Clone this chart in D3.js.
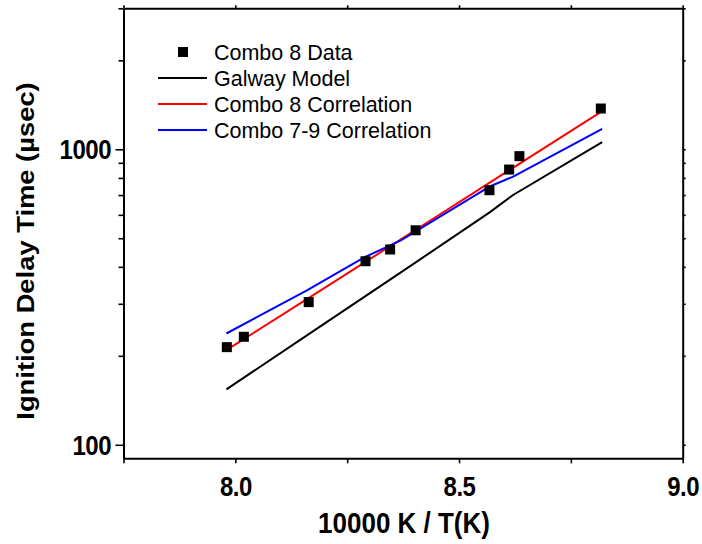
<!DOCTYPE html>
<meta charset="utf-8">
<script src="https://cdn.jsdelivr.net/npm/d3@7/dist/d3.min.js"></script>
<style>
  body { margin: 0; background: #fff; }
  text { font-family: "Liberation Sans", Arial, sans-serif; fill: #000; }
  .axis path, .axis line { stroke: #000; }
  .axis path { stroke-width: 2; }
  .axis line { stroke-width: 1.6; }
</style>
<div id="chart"></div>
<script>
// Combo 8 measured ignition delays
var dataX = [7.981, 8.019, 8.164, 8.291, 8.346, 8.403, 8.568, 8.612, 8.635, 8.817];
var dataY = [214, 232, 304, 418, 458, 532, 727, 854, 948, 1374];

// model / correlation curves
var galwayX = [7.98, 8.17, 8.37, 8.57, 8.62, 8.82];
var galwayY = [154, 240, 383, 614, 699, 1057];
var combo8X = [7.98, 8.16, 8.40, 8.60, 8.82];
var combo8Y = [209, 311, 530, 827, 1346];
var combo79X = [7.98, 8.16, 8.29, 8.37, 8.57, 8.62, 8.82];
var combo79Y = [238, 333, 432, 492, 750, 807, 1172];

var xTickVals = [7.75, 8.0, 8.25, 8.5, 8.75, 9.0];
var xTickLabels = ["", "8.0", "", "8.5", "", "9.0"];
var yMajorVals = [100, 1000];
var yMinorVals = [200, 300, 400, 500, 600, 700, 800, 900, 2000, 3000];

var legendNames = ["Combo 8 Data", "Galway Model", "Combo 8 Correlation", "Combo 7-9 Correlation"];
var legendColors = ["#000", "#000", "#ff0000", "#0000ff"];

var margin = {top: 8.3, right: 19.3, bottom: 85.7, left: 123.5},
    width = 702 - margin.left - margin.right,
    height = 544 - margin.top - margin.bottom;

var svg = d3.select("#chart")
  .append("svg")
    .attr("width", 702)
    .attr("height", 544)
  .append("g")
    .attr("transform", "translate(" + margin.left + "," + margin.top + ")");

var x = d3.scaleLinear().domain([7.75, 9.0]).range([0, width]);
var y = d3.scaleLog().domain([90, 3000]).range([height, 0]);

// bottom axis
svg.append("g")
  .attr("class", "axis")
  .attr("transform", "translate(0," + height + ")")
  .call(d3.axisBottom(x).tickValues(xTickVals).tickSize(5).tickSizeOuter(0)
    .tickFormat(function(d, i) { return xTickLabels[i]; }))
  .selectAll("text")
    .attr("y", 0).attr("dy", 0)
    .attr("transform", "translate(0,37.7) scale(1,1.12)")
    .attr("font-size", 24)
    .attr("font-weight", "bold")
    .attr("letter-spacing", -0.5);

// top axis
svg.append("g")
  .attr("class", "axis")
  .call(d3.axisTop(x).tickValues(xTickVals).tickSize(3).tickSizeOuter(0).tickFormat(""));

// left axis, major + minor
svg.append("g")
  .attr("class", "axis")
  .call(d3.axisLeft(y).tickValues(yMajorVals).tickSize(8).tickSizeOuter(0)
    .tickFormat(d3.format("d")))
  .selectAll("text")
    .attr("x", 0).attr("dy", 0)
    .attr("transform", "translate(-12.5,9.5) scale(1,1.12)")
    .attr("font-size", 24)
    .attr("font-weight", "bold")
    .attr("letter-spacing", -0.5);

svg.append("g")
  .attr("class", "axis")
  .call(d3.axisLeft(y).tickValues(yMinorVals).tickSize(5).tickFormat(""))
  .call(function(g) { g.select(".domain").remove(); });

// right axis
svg.append("g")
  .attr("class", "axis")
  .attr("transform", "translate(" + width + ",0)")
  .call(d3.axisRight(y).tickValues(yMajorVals.concat(yMinorVals)).tickSize(3).tickSizeOuter(0).tickFormat(""));

// curves
var line = d3.line()
  .x(function(d) { return x(d[0]); })
  .y(function(d) { return y(d[1]); });

var curves = [
  {xs: galwayX, ys: galwayY, color: legendColors[1]},
  {xs: combo8X, ys: combo8Y, color: legendColors[2]},
  {xs: combo79X, ys: combo79Y, color: legendColors[3]}
];

curves.forEach(function(c) {
  svg.append("path")
    .datum(d3.zip(c.xs, c.ys))
    .attr("fill", "none")
    .attr("stroke", c.color)
    .attr("stroke-width", 2)
    .attr("d", line);
});

// data squares
svg.selectAll("rect.pt")
  .data(d3.zip(dataX, dataY))
  .enter()
  .append("rect")
    .attr("class", "pt")
    .attr("x", function(d) { return x(d[0]) - 5; })
    .attr("y", function(d) { return y(d[1]) - 5; })
    .attr("width", 10)
    .attr("height", 10)
    .attr("fill", "#000");

// legend (page coords)
var legend = d3.select("svg").append("g");
var rowY = [52, 78, 104, 130];

legendNames.forEach(function(name, i) {
  if (i === 0) {
    legend.append("rect")
      .attr("x", 178).attr("y", rowY[i] - 5)
      .attr("width", 10).attr("height", 10)
      .attr("fill", "#000");
  } else {
    legend.append("line")
      .attr("x1", 158).attr("x2", 207)
      .attr("y1", rowY[i]).attr("y2", rowY[i])
      .attr("stroke", legendColors[i])
      .attr("stroke-width", 2);
  }
  legend.append("text")
    .attr("transform", "translate(214," + (rowY[i] + 8) + ") scale(1,1.05)")
    .attr("font-size", 21.5)
    .text(name);
});

// axis titles
d3.select("svg").append("text")
  .attr("transform", "translate(404,533) scale(1,1.15)")
  .attr("text-anchor", "middle")
  .attr("font-size", 26)
  .attr("font-weight", "bold")
  .text("10000 K / T(K)");

d3.select("svg").append("text")
  .attr("transform", "translate(33.5,251) rotate(-90) scale(1.14,1)")
  .attr("text-anchor", "middle")
  .attr("font-size", 24)
  .attr("font-weight", "bold")
  .text("Ignition Delay Time (\u00b5sec)");
</script>
